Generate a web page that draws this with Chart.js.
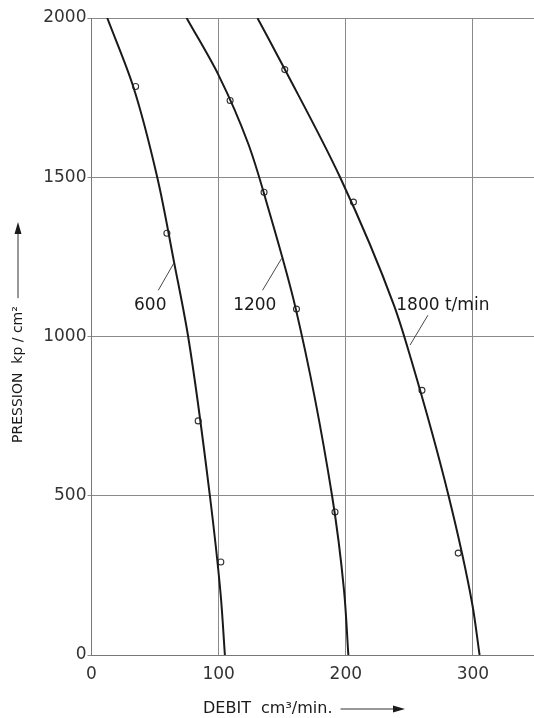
<!DOCTYPE html>
<html>
<head>
<meta charset="utf-8">
<script src="https://cdn.jsdelivr.net/npm/chart.js@4/dist/chart.umd.min.js"></script>
<style>
html,body{margin:0;padding:0;background:#fff;}
canvas{display:block;}
</style>
</head>
<body>
<canvas id="c" width="534" height="718"></canvas>
<script>
// ---- data ----
const xTicks = [0, 100, 200, 300];
const yTicks = [0, 500, 1000, 1500, 2000];

const curve600X  = [12.4, 32.8, 51.7, 65.0, 76.0, 93.1, 101.5, 104.9];
const curve600Y  = [2000, 1785, 1500, 1232, 1000, 500, 193, 0];
const curve1200X = [74.8, 100.0, 123.2, 139.4, 160.7, 189.2, 198.6, 202.0];
const curve1200Y = [2000, 1820, 1606, 1397, 1086, 500, 203, 0];
const curve1800X = [130.5, 152.0, 195.5, 237.9, 251.5, 280.8, 299.4, 305.2];
const curve1800Y = [2000, 1839, 1500, 1098, 926, 500, 161, 0];

const pts600X  = [34.7, 59.3, 83.9, 101.7];
const pts600Y  = [1785, 1324, 735, 292];
const pts1200X = [109.0, 135.7, 161.2, 191.5];
const pts1200Y = [1741, 1453, 1086, 449];
const pts1800X = [152.0, 206.0, 259.9, 288.4];
const pts1800Y = [1838, 1422, 831, 320];

const curveLabels = ['600', '1200', '1800 t/min'];
// label anchor (data units), leader line start and tip (data units)
const labelX = [46.2, 128.4, 239.7];
const labelY = [1098, 1098, 1098];
const leaderFromX = [52.5, 134.5, 264.6];
const leaderFromY = [1145, 1145, 1067];
const leaderToX = [65.0, 149.5, 250.5];
const leaderToY = [1232, 1245, 973];

const xTitle = 'DEBIT  cm³/min.';
const yTitle = 'PRESSION  kp / cm²';

// ---- build ----
const zip = (xs, ys) => xs.map((x, i) => ({x: x, y: ys[i]}));
const INK = '#1a1a1a';
const FONT = "'DejaVu Sans', sans-serif";

const curveDs = (xs, ys) => ({
  data: zip(xs, ys), showLine: true, borderColor: INK, borderWidth: 2,
  pointRadius: 0, indexAxis: 'y', cubicInterpolationMode: 'monotone', fill: false
});
const pointDs = (xs, ys) => ({
  data: zip(xs, ys), showLine: false, pointStyle: 'circle', pointRadius: 3,
  borderColor: '#333', borderWidth: 1.1, backgroundColor: 'rgba(255,255,255,0)'
});

const annot = {
  id: 'annot',
  afterDatasetsDraw(chart) {
    const ctx = chart.ctx, xs = chart.scales.x, ys = chart.scales.y;
    ctx.save();
    ctx.fillStyle = INK; ctx.strokeStyle = '#333';
    ctx.font = '17px ' + FONT;
    ctx.textBaseline = 'middle';
    curveLabels.forEach((t, i) => {
      ctx.textAlign = i === 2 ? 'left' : 'center';
      ctx.fillText(t, xs.getPixelForValue(labelX[i]), ys.getPixelForValue(labelY[i]));
      ctx.lineWidth = 0.9;
      ctx.beginPath();
      ctx.moveTo(xs.getPixelForValue(leaderFromX[i]), ys.getPixelForValue(leaderFromY[i]));
      ctx.lineTo(xs.getPixelForValue(leaderToX[i]), ys.getPixelForValue(leaderToY[i]));
      ctx.stroke();
    });
    // x axis title with arrow
    ctx.font = '16px ' + FONT;
    ctx.textAlign = 'left';
    const tx = 203, ty = 709;
    ctx.fillText(xTitle, tx, ty);
    const w = ctx.measureText(xTitle).width;
    const a0 = tx + w + 8, a1 = 405;
    ctx.lineWidth = 1;
    ctx.beginPath(); ctx.moveTo(a0, ty); ctx.lineTo(a1 - 8, ty); ctx.stroke();
    ctx.beginPath(); ctx.moveTo(a1, ty); ctx.lineTo(a1 - 12, ty - 3.5); ctx.lineTo(a1 - 12, ty + 3.5); ctx.closePath(); ctx.fill();
    // y axis title with arrow
    ctx.font = '14px ' + FONT;
    ctx.save();
    ctx.translate(18, 443);
    ctx.rotate(-Math.PI / 2);
    ctx.textAlign = 'left';
    ctx.fillText(yTitle, 0, 0);
    const wy = ctx.measureText(yTitle).width;
    const b0 = wy + 8, b1 = 443 - 222;
    ctx.beginPath(); ctx.moveTo(b0, 0); ctx.lineTo(b1 - 8, 0); ctx.stroke();
    ctx.beginPath(); ctx.moveTo(b1, 0); ctx.lineTo(b1 - 12, -3.5); ctx.lineTo(b1 - 12, 3.5); ctx.closePath(); ctx.fill();
    ctx.restore();
    ctx.restore();
  }
};

Chart.defaults.font.family = FONT;
Chart.defaults.color = INK;

new Chart(document.getElementById('c'), {
  type: 'scatter',
  data: {
    datasets: [
      curveDs(curve600X, curve600Y),
      curveDs(curve1200X, curve1200Y),
      curveDs(curve1800X, curve1800Y),
      pointDs(pts600X, pts600Y),
      pointDs(pts1200X, pts1200Y),
      pointDs(pts1800X, pts1800Y)
    ]
  },
  options: {
    responsive: false,
    animation: false,
    layout: {autoPadding: false, padding: {top: 18, right: 0, bottom: 0, left: 0}},
    plugins: {legend: {display: false}, tooltip: {enabled: false}},
    scales: {
      x: {
        type: 'linear', min: 0, max: 348,
        afterBuildTicks: s => { s.ticks = xTicks.map(v => ({value: v})); },
        afterFit: s => { s.height = 63; },
        grid: {color: '#8a8a8a', lineWidth: 1, tickLength: 0},
        border: {color: '#777', width: 1},
        ticks: {font: {size: 17}, padding: 9, callback: v => String(v), color: '#333'}
      },
      y: {
        type: 'linear', min: 0, max: 2000,
        afterBuildTicks: s => { s.ticks = yTicks.map(v => ({value: v})); },
        afterFit: s => { s.width = 91.5; },
        grid: {color: '#8a8a8a', lineWidth: 1, tickLength: 4},
        border: {color: '#777', width: 1},
        ticks: {font: {size: 17}, padding: 1, callback: v => String(v), color: '#333'}
      }
    }
  },
  plugins: [annot]
});
</script>
</body>
</html>
